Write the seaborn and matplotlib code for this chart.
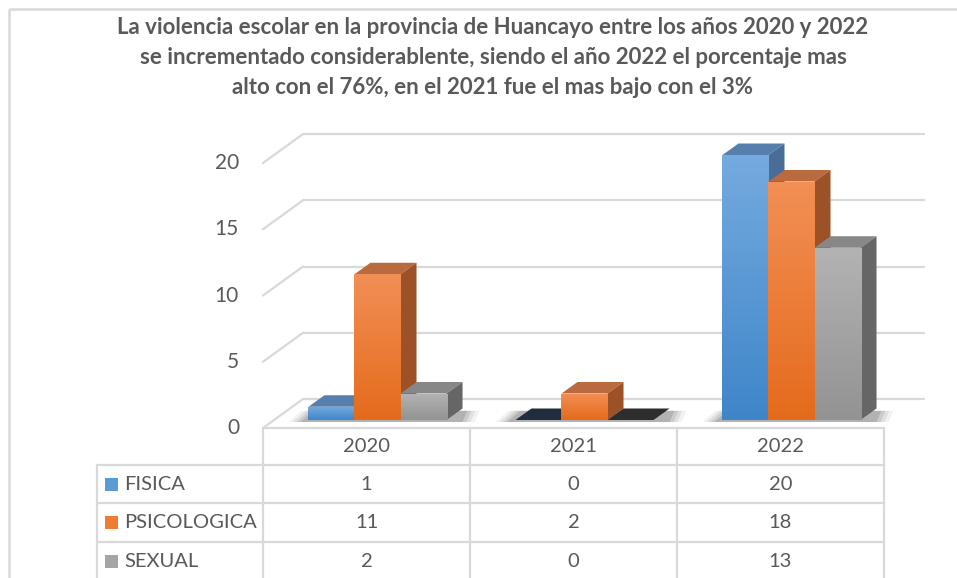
import matplotlib

matplotlib.use("Agg")
import matplotlib.pyplot as plt
import matplotlib.transforms as mtransforms
import numpy as np
import pandas as pd
import seaborn as sns
from matplotlib.colors import LinearSegmentedColormap
from matplotlib.lines import Line2D
from matplotlib.patches import Polygon, Rectangle

# data
YEARS = ["2020", "2021", "2022"]
SERIES = ["FISICA", "PSICOLOGICA", "SEXUAL"]
FISICA = [1, 0, 20]
PSICOLOGICA = [11, 2, 18]
SEXUAL = [2, 0, 13]
Y_TICKS = [0, 5, 10, 15, 20]
TITLE_LINES = [
    "La violencia escolar en la provincia de Huancayo entre los años 2020 y 2022",
    "se incrementado considerablente, siendo el año 2022 el porcentaje mas",
    "alto con el 76%, en el 2021 fue el mas bajo con el 3%",
]

# colours (front gradient bottom/top, top face, side face, flat top when value is 0)
BASE = {"FISICA": "#5B9BD5", "PSICOLOGICA": "#ED7D31", "SEXUAL": "#A5A5A5"}
GRAD_BOTTOM = {"FISICA": "#3F86C9", "PSICOLOGICA": "#E56B1C", "SEXUAL": "#939393"}
GRAD_TOP = {"FISICA": "#74AADF", "PSICOLOGICA": "#F28F55", "SEXUAL": "#B3B3B3"}
TOP_FACE = {"FISICA": "#577FAE", "PSICOLOGICA": "#B96A3E", "SEXUAL": "#878787"}
SIDE_FACE = {"FISICA": "#496D96", "PSICOLOGICA": "#9C5226", "SEXUAL": "#666666"}
ZERO_TOP = {"FISICA": "#1F2D3F", "PSICOLOGICA": "#B96A3E", "SEXUAL": "#2D2D2D"}
TEXT = "#595959"
GRID = "#D9D9D9"

# layout in pixels (top-left origin)
W_PX, H_PX = 957, 578
AX_LEFT, AX_RIGHT = 274, 895      # bar plane, x = -0.5 .. 2.5
AX_ZERO, AX_TOP = 420, 155        # bar plane, y = 0 .. 20
FRONT_OFF = (-11, -8)             # front plane relative to bar plane
BACK_OFF = (29, 21)               # back wall relative to bar plane
BAR_DEPTH = (16, 11.5)
ROW_LINES = [465, 503, 542, 581]
HEADER_TOP = 428
TABLE_LEFT = 97
FONT = ["Lato", "DejaVu Sans"]

sns.set_theme(style="white")
plt.rcParams["font.family"] = FONT

fig = plt.figure(figsize=(W_PX / 100, H_PX / 100), dpi=100)
ax = fig.add_axes([
    AX_LEFT / W_PX,
    (H_PX - AX_ZERO) / H_PX,
    (AX_RIGHT - AX_LEFT) / W_PX,
    (AX_ZERO - AX_TOP) / H_PX,
])
px_x = (AX_RIGHT - AX_LEFT) / 3.0
px_y = (AX_ZERO - AX_TOP) / 20.0


def to_data(off):
    return off[0] / px_x, off[1] / px_y


fdx, fdy = to_data(FRONT_OFF)
bdx, bdy = to_data(BACK_OFF)
ddx, ddy = to_data(BAR_DEPTH)

df = pd.DataFrame({
    "year": YEARS * 3,
    "tipo": [s for s in SERIES for _ in YEARS],
    "value": FISICA + PSICOLOGICA + SEXUAL,
})
sns.barplot(data=df, x="year", y="value", hue="tipo", hue_order=SERIES, order=YEARS,
            palette=BASE, saturation=1, width=0.667, legend=False, ax=ax,
            edgecolor="none", linewidth=0, zorder=3)
ax.set_xlim(-0.5, 2.5)
ax.set_ylim(0, 20)
ax.set_axis_off()

# walls: back gridlines, left side diagonals, front floor edge
for v in Y_TICKS:
    ax.add_line(Line2D([-0.5 + bdx, 2.5 + bdx], [v + bdy, v + bdy], color=GRID, lw=1.6,
                       clip_on=False, zorder=1))
    ax.add_line(Line2D([-0.5 + fdx, -0.5 + bdx], [v + fdy, v + bdy], color=GRID, lw=1.6,
                       clip_on=False, zorder=1))
    ax.text(-0.5 + fdx - 24 / px_x, v + fdy, str(v), ha="right", va="center",
            fontsize=15, color=TEXT)
ax.add_line(Line2D([-0.5 + fdx, 2.5 + fdx], [fdy, fdy], color=GRID, lw=1.6,
                   clip_on=False, zorder=1))

# soft shadows on the floor under each group
for i in range(len(YEARS)):
    left = i - 0.667 / 2
    right = i + 0.667 / 2 + ddx
    for k, a in enumerate([0.05, 0.07, 0.09, 0.12]):
        grow = (3 - k) * 4 / px_x
        sh = Polygon([(left - grow - 8 / px_x, -0.15), (right + grow, -0.15),
                      (right + grow + ddx * 0.3, ddy * 0.8), (left - grow + ddx * 0.3, ddy * 0.8)],
                     closed=True, facecolor="black", alpha=a, lw=0, clip_on=False, zorder=1.5)
        ax.add_patch(sh)

# 3d faces and gradients
for j, (name, cont) in enumerate(zip(SERIES, ax.containers)):
    base_z = 2 + j * 0.1
    cmap = LinearSegmentedColormap.from_list(name, [GRAD_BOTTOM[name], GRAD_TOP[name]])
    for bar in cont:
        x0 = bar.get_x()
        x1 = x0 + bar.get_width()
        h = bar.get_height()
        bar.set_zorder(base_z + 0.05)
        bar.set_clip_on(False)
        if h <= 0:
            ax.add_patch(Polygon([(x0, 0), (x1, 0), (x1 + ddx, ddy), (x0 + ddx, ddy)], closed=True,
                                 facecolor=ZERO_TOP[name], lw=0, clip_on=False, zorder=base_z))
            continue
        ax.add_patch(Polygon([(x0, h), (x1, h), (x1 + ddx, h + ddy), (x0 + ddx, h + ddy)],
                             closed=True, facecolor=TOP_FACE[name], lw=0, clip_on=False, zorder=base_z))
        ax.add_patch(Polygon([(x1, 0), (x1 + ddx, ddy), (x1 + ddx, h + ddy), (x1, h)],
                             closed=True, facecolor=SIDE_FACE[name], lw=0, clip_on=False, zorder=base_z))
        grad = np.linspace(0, 1, 64).reshape(-1, 1)
        im = ax.imshow(grad, extent=[x0, x1, 0, h], origin="lower", cmap=cmap, aspect="auto",
                       zorder=base_z + 0.06)
        im.set_clip_path(bar)
ax.set_xlim(-0.5, 2.5)
ax.set_ylim(0, 20)

# pixel transform, top-left origin
px = mtransforms.Affine2D().scale(1, -1).translate(0, H_PX)


def col_edge(k):
    return AX_LEFT + k * px_x + FRONT_OFF[0]


def hline(x0, x1, y):
    fig.add_artist(Line2D([x0, x1], [y, y], color=GRID, lw=1.6, transform=px))


def vline(x, y0, y1):
    fig.add_artist(Line2D([x, x], [y0, y1], color=GRID, lw=1.6, transform=px))


# chart border
fig.add_artist(Rectangle((9, 9), W_PX, H_PX, fill=False, edgecolor=GRID, lw=1.8, transform=px))

# data table
for k in range(4):
    vline(col_edge(k), HEADER_TOP, H_PX)
vline(TABLE_LEFT, ROW_LINES[0], H_PX)
for y in ROW_LINES:
    hline(TABLE_LEFT, col_edge(3), y)

for i, year in enumerate(YEARS):
    cx = (col_edge(i) + col_edge(i + 1)) / 2
    fig.text(cx, (HEADER_TOP + ROW_LINES[0]) / 2, year, transform=px, ha="center", va="center",
             fontsize=14.5, color=TEXT)
for r, (name, vals) in enumerate(zip(SERIES, [FISICA, PSICOLOGICA, SEXUAL])):
    cy = (ROW_LINES[r] + ROW_LINES[r + 1]) / 2
    fig.add_artist(Rectangle((105, cy - 6.5), 13, 13, facecolor=BASE[name], lw=0, transform=px))
    fig.text(124, cy, name, transform=px, ha="left", va="center", fontsize=14.5, color=TEXT)
    for i, v in enumerate(vals):
        cx = (col_edge(i) + col_edge(i + 1)) / 2
        fig.text(cx, cy, str(v), transform=px, ha="center", va="center", fontsize=14.5, color=TEXT)

# title
for n, line in enumerate(TITLE_LINES):
    fig.text(493, 28 + n * 29.5, line, transform=px, ha="center", va="center", fontsize=16,
             fontweight="bold", color=TEXT)

fig.savefig("out.png", dpi=100)
plt.close(fig)
